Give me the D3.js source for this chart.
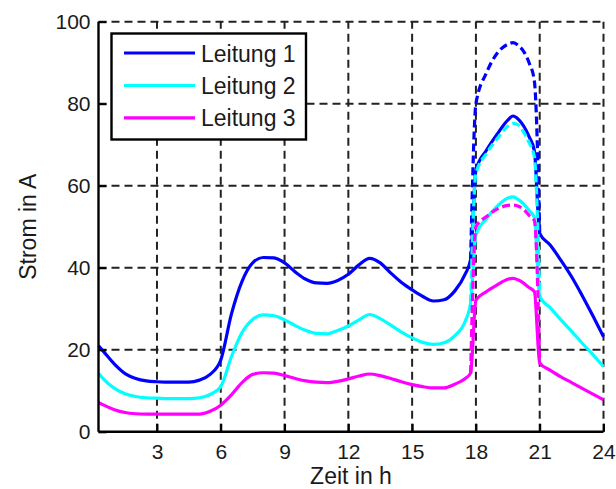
<!DOCTYPE html>
<html>
<head>
<meta charset="utf-8">
<script src="https://cdn.jsdelivr.net/npm/d3@7"></script>
<style>
  html, body { margin: 0; padding: 0; background: #fff; }
  svg { display: block; }
  text { font-family: "Liberation Sans", Arial, Helvetica, sans-serif; fill: #1a1a1a; }
</style>
</head>
<body>
<svg id="chart" width="616" height="489"></svg>
<script>
// ---------- data ----------
const times = [0.25, 0.5, 1, 1.5, 2, 2.5, 3, 3.5, 4, 4.5, 5, 5.5, 6, 6.5, 7, 7.5, 8, 8.5, 9, 9.5,
  10, 10.5, 11, 11.5, 12, 12.5, 13, 13.5, 14, 14.5, 15, 15.5, 16, 16.5, 17, 17.5, 17.75,
  18, 18.5, 19, 19.5, 19.75, 20, 20.5, 20.75, 21, 21.5, 22, 22.5, 23, 23.5, 24];

const leitung1 = [21.0, 19.5, 16.5, 14.2, 13.0, 12.4, 12.2, 12.1, 12.1, 12.1, 12.6, 14.0, 17.5, 28.7, 36.7, 41.2, 42.5, 42.4, 41.2, 39.0,
  37.2, 36.3, 36.2, 36.9, 38.4, 40.7, 42.3, 41.2, 38.7, 36.4, 34.6, 33.0, 31.9, 32.2, 34.3, 38.5, 42.0,
  63.8, 68.7, 72.6, 76.0, 77.0, 76.2, 72.0, 68.5, 48.4, 45.5, 41.8, 37.8, 33.2, 28.3, 23.2];

const leitung2 = [14.3, 12.8, 10.6, 9.3, 8.6, 8.3, 8.2, 8.1, 8.1, 8.1, 8.3, 9.1, 11.0, 18.3, 24.2, 27.4, 28.5, 28.3, 27.3, 25.9,
  24.7, 24.0, 23.9, 24.7, 25.8, 27.3, 28.6, 27.6, 26.0, 24.3, 22.9, 21.8, 21.3, 21.7, 23.4, 27.0, 31.5,
  48.0, 52.0, 55.0, 57.0, 57.3, 56.6, 54.0, 52.3, 33.0, 30.2, 27.3, 24.5, 21.6, 18.8, 15.9];

const leitung3 = [7.2, 6.5, 5.4, 4.7, 4.4, 4.3, 4.3, 4.3, 4.3, 4.3, 4.3, 5.0, 6.5, 9.0, 12.0, 14.0, 14.4, 14.3, 13.7, 13.0,
  12.4, 12.1, 12.0, 12.3, 12.9, 13.6, 14.1, 13.7, 13.0, 12.2, 11.5, 11.0, 10.7, 10.7, 11.6, 13.0, 14.3,
  32.1, 34.2, 35.8, 37.2, 37.4, 37.0, 35.2, 34.2, 16.7, 15.0, 13.4, 12.0, 10.6, 9.2, 7.8];

// dashed (uncontrolled) variants, only where they differ
const timesDashed = [17.75, 18, 18.5, 19, 19.5, 19.75, 20, 20.25, 20.5, 20.75, 21];
const leitung1Dashed = [42.0, 80.0, 87.6, 92.3, 94.5, 94.9, 94.2, 92.7, 90.0, 85.5, 48.4];
const leitung2Dashed = [31.5, 63.0, 67.9, 71.5, 74.5, 75.2, 74.8, 73.0, 70.5, 67.0, 33.0];
const leitung3Dashed = [14.3, 50.0, 52.5, 54.3, 55.2, 55.3, 55.0, 54.2, 52.8, 51.5, 16.7];

const seriesNames = ["Leitung 1", "Leitung 2", "Leitung 3"];
const seriesColors = ["#0000ff", "#00ffff", "#ff00ff"];
const xTicks = [3, 6, 9, 12, 15, 18, 21, 24];
const yTicks = [0, 20, 40, 60, 80, 100];
const xLabel = "Zeit in h";
const yLabel = "Strom in A";

// ---------- layout ----------
const svg = d3.select("#chart");
const L = 98.5, R = 603.5, T = 21.7, B = 431.8;
const x = d3.scaleLinear().domain([0.25, 24]).range([L, R]);
const y = d3.scaleLinear().domain([0, 100]).range([B, T]);

// grid
const grid = svg.append("g");
grid.selectAll("line.gx").data(xTicks).enter().append("line")
  .attr("x1", d => x(d)).attr("x2", d => x(d)).attr("y1", B).attr("y2", T)
  .attr("stroke", "#222").attr("stroke-width", 2).attr("stroke-dasharray", "8,5");
grid.selectAll("line.gy").data(yTicks.filter(v => v > 0)).enter().append("line")
  .attr("x1", L).attr("x2", R).attr("y1", d => y(d)).attr("y2", d => y(d))
  .attr("stroke", "#222").attr("stroke-width", 2).attr("stroke-dasharray", "8,5");

// lines
const line = d3.line().x(d => x(d[0])).y(d => y(d[1])).curve(d3.curveMonotoneX);
const solid = [leitung1, leitung2, leitung3];
const dashed = [leitung1Dashed, leitung2Dashed, leitung3Dashed];

solid.forEach((vals, i) => {
  svg.append("path")
    .datum(times.map((t, k) => [t, vals[k]]))
    .attr("d", line).attr("fill", "none")
    .attr("stroke", seriesColors[i]).attr("stroke-width", 3.2)
    .attr("stroke-linejoin", "round");
});
dashed.forEach((vals, i) => {
  svg.append("path")
    .datum(timesDashed.map((t, k) => [t, vals[k]]))
    .attr("d", line).attr("fill", "none")
    .attr("stroke", seriesColors[i]).attr("stroke-width", 3.2)
    .attr("stroke-dasharray", "8,4").attr("stroke-linejoin", "round");
});

// axes (box off: left & bottom only, inward ticks)
const xAxis = d3.axisBottom(x).tickValues(xTicks).tickSize(-8).tickPadding(14);
const yAxis = d3.axisLeft(y).tickValues(yTicks).tickSize(-8).tickPadding(8);

const gx = svg.append("g").attr("transform", `translate(0,${B})`).call(xAxis);
const gy = svg.append("g").attr("transform", `translate(${L},0)`).call(yAxis);
[gx, gy].forEach(g => {
  g.select(".domain").attr("stroke", "#000").attr("stroke-width", 2.4);
  g.selectAll(".tick line").attr("stroke", "#000").attr("stroke-width", 2);
  g.selectAll(".tick text").attr("font-size", 21).attr("fill", "#1a1a1a")
    .style("font-family", '"Liberation Sans", Arial, sans-serif');
});
gx.select(".domain").attr("d", `M${L},0H${R}`);
gy.select(".domain").attr("d", `M0,${B}V${T}`);
gx.selectAll(".tick text").attr("y", 27).attr("dy", 0);

// axis labels
svg.append("text").attr("x", (L + R) / 2).attr("y", 484)
  .attr("text-anchor", "middle").attr("font-size", 23).text(xLabel);
svg.append("text").attr("transform", `translate(36,${(T + B) / 2}) rotate(-90)`)
  .attr("text-anchor", "middle").attr("font-size", 23).text(yLabel);

// legend
const lg = svg.append("g");
lg.append("rect").attr("x", 111.5).attr("y", 33.5).attr("width", 194.5).attr("height", 106)
  .attr("fill", "#fff").attr("stroke", "#000").attr("stroke-width", 2.4);
const legendY = [53, 85.5, 117.8];
seriesNames.forEach((name, i) => {
  lg.append("line").attr("x1", 124).attr("x2", 195)
    .attr("y1", legendY[i]).attr("y2", legendY[i])
    .attr("stroke", seriesColors[i]).attr("stroke-width", 3.2);
  lg.append("text").attr("x", 201).attr("y", legendY[i] + 8.5)
    .attr("font-size", 23).text(name);
});
</script>
</body>
</html>
